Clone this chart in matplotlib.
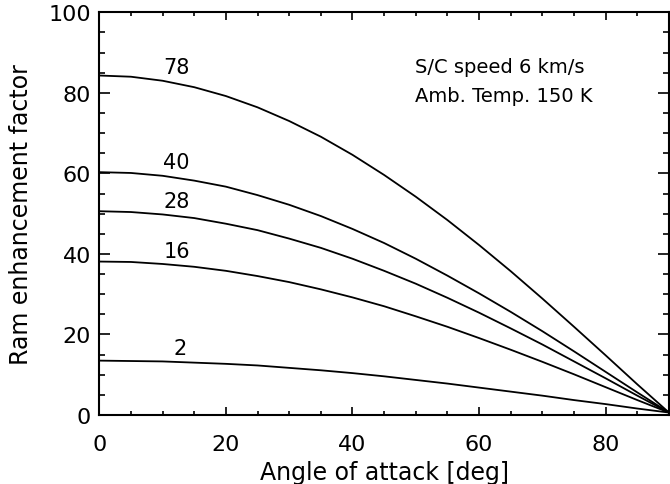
import matplotlib
matplotlib.use('Agg')
from matplotlib import pyplot as plt
from matplotlib.ticker import MultipleLocator

# angle of attack [deg], sampled every 5 deg
angle = [0, 5, 10, 15, 20, 25, 30, 35, 40, 45, 50, 55, 60, 65, 70, 75, 80, 85, 90]

# ram enhancement factor for each species mass (amu)
ram_78 = [84.3, 84.0, 83.0, 81.4, 79.2, 76.4, 73.0, 69.1, 64.6, 59.6, 54.2, 48.4, 42.2, 35.7, 28.9, 21.9, 14.8, 7.6, 0.6]
ram_40 = [60.3, 60.1, 59.4, 58.2, 56.7, 54.6, 52.2, 49.4, 46.2, 42.7, 38.8, 34.6, 30.2, 25.6, 20.8, 15.8, 10.7, 5.6, 0.6]
ram_28 = [50.6, 50.4, 49.8, 48.9, 47.5, 45.9, 43.8, 41.5, 38.8, 35.8, 32.6, 29.1, 25.4, 21.5, 17.5, 13.3, 9.1, 4.8, 0.6]
ram_16 = [38.1, 38.0, 37.5, 36.8, 35.8, 34.5, 33.0, 31.2, 29.2, 27.0, 24.5, 21.9, 19.1, 16.2, 13.2, 10.1, 6.9, 3.7, 0.6]
ram_2 = [13.5, 13.4, 13.3, 13.0, 12.7, 12.3, 11.7, 11.1, 10.4, 9.6, 8.7, 7.8, 6.8, 5.8, 4.8, 3.7, 2.7, 1.6, 0.6]

masses = ['78', '40', '28', '16', '2']
curves = [ram_78, ram_40, ram_28, ram_16, ram_2]

fig = plt.figure(figsize=(6.7, 4.85), dpi=100)
ax = fig.add_axes([0.1482, 0.1423, 0.8503, 0.8303])

for m, vals in zip(masses, curves):
    ax.plot(angle, vals, color='black', lw=1.3)
    # mass label sits just above the curve near 12 deg
    xl = 12.7 if len(m) == 1 else 12.2
    ax.text(xl, vals[2] + 3.3, m, ha='center', va='center', fontsize=15)

ax.text(49.8, 86.6, 'S/C speed 6 km/s', ha='left', va='center', fontsize=14)
ax.text(49.8, 79.3, 'Amb. Temp. 150 K', ha='left', va='center', fontsize=14)

ax.set_xlim(0, 90)
ax.set_ylim(0, 100)
ax.xaxis.set_major_locator(MultipleLocator(20))
ax.xaxis.set_minor_locator(MultipleLocator(5))
ax.yaxis.set_major_locator(MultipleLocator(20))
ax.yaxis.set_minor_locator(MultipleLocator(5))
ax.tick_params(axis='both', which='both', direction='in', top=True, right=True,
               labelsize=16, width=1.2, colors='black')
ax.tick_params(axis='x', which='major', length=5.5, pad=14)
ax.tick_params(axis='x', which='minor', length=3)
ax.tick_params(axis='y', which='major', length=7.7, pad=6)
ax.tick_params(axis='y', which='minor', length=4.3)
for s in ax.spines.values():
    s.set_linewidth(1.5)

ax.set_xlabel('Angle of attack [deg]', fontsize=17, labelpad=4)
ax.set_ylabel('Ram enhancement factor', fontsize=17, labelpad=11)

fig.savefig('out.png', dpi=100)
